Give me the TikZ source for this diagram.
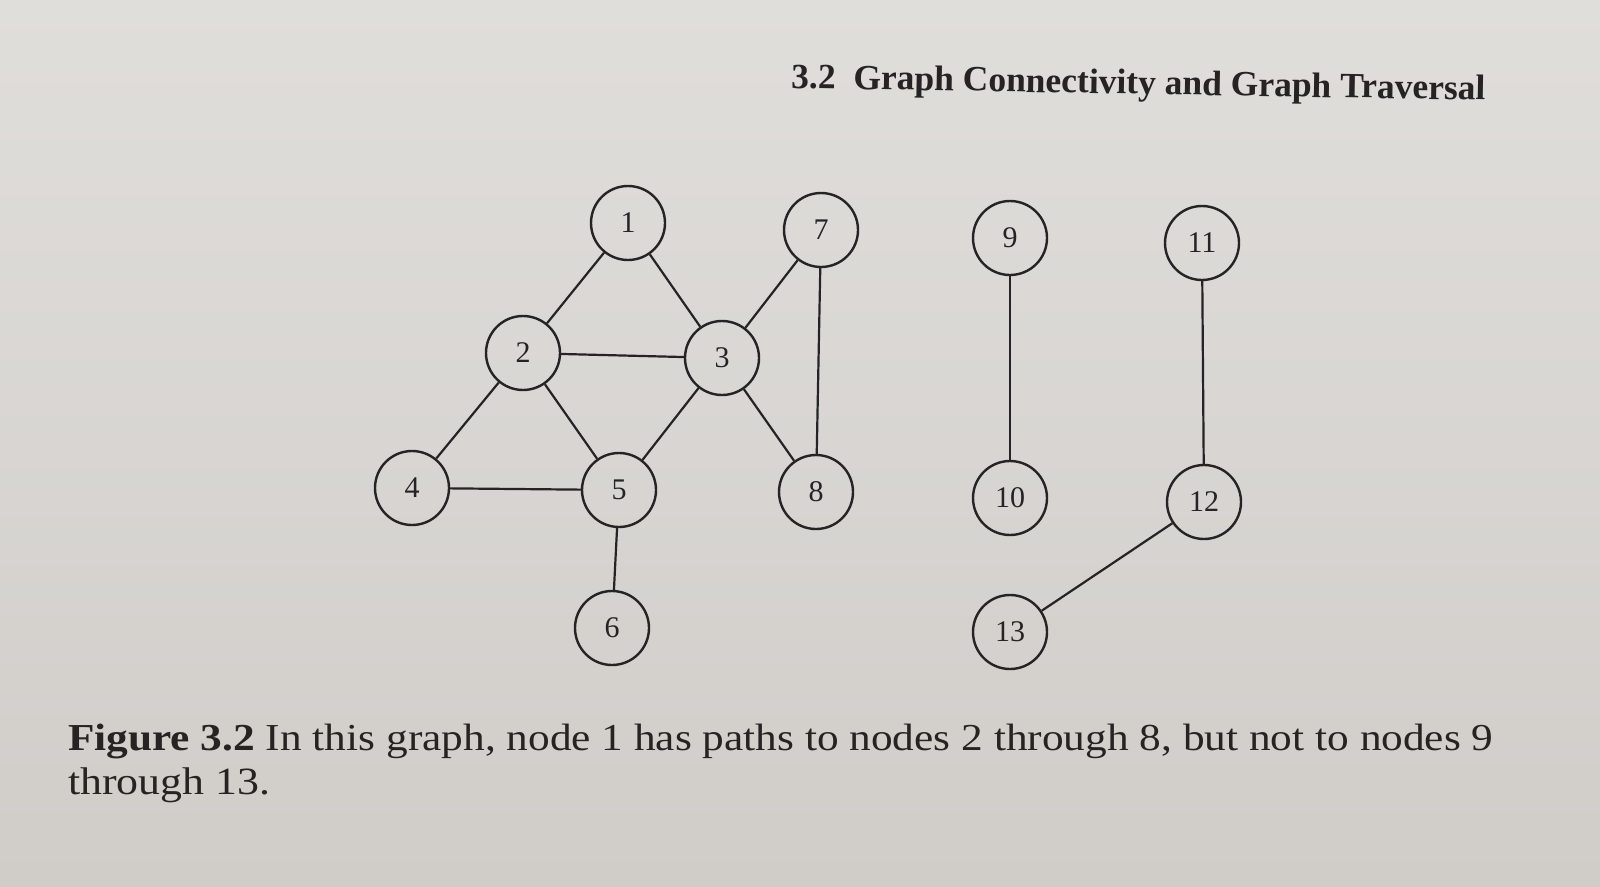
\documentclass[tikz,border=0pt]{standalone}
\usepackage{fontspec}
\setmainfont{Liberation Serif}
\definecolor{papertop}{RGB}{224,222,219}
\definecolor{paperbot}{RGB}{208,205,201}
\definecolor{ink}{RGB}{38,36,34}
\begin{document}
\begin{tikzpicture}[x=1pt,y=-1pt,
  vert/.style={circle,draw=ink,line width=2.4pt,minimum size=74pt,inner sep=0pt,
    font=\fontsize{30}{30}\selectfont,text=ink},
  edge/.style={draw=ink,line width=2.2pt},
  captext/.style={anchor=base west,inner sep=0pt,text=ink}]
\shade[top color=papertop,bottom color=paperbot] (0,0) rectangle (1600,886);
\useasboundingbox (0,0) rectangle (1600,886);
\node[vert] (n1) at (628,223) {1};
\node[vert] (n2) at (523,353) {2};
\node[vert] (n3) at (722,358) {3};
\node[vert] (n4) at (412,488) {4};
\node[vert] (n5) at (619,490) {5};
\node[vert] (n6) at (612,628) {6};
\node[vert] (n7) at (821,230) {7};
\node[vert] (n8) at (816,492) {8};
\node[vert] (n9) at (1010,238) {9};
\node[vert] (n10) at (1010,498) {10};
\node[vert] (n11) at (1202,243) {11};
\node[vert] (n12) at (1204,502) {12};
\node[vert] (n13) at (1010,632) {13};
\draw[edge] (n1) -- (n2);
\draw[edge] (n1) -- (n3);
\draw[edge] (n2) -- (n3);
\draw[edge] (n2) -- (n4);
\draw[edge] (n2) -- (n5);
\draw[edge] (n3) -- (n5);
\draw[edge] (n3) -- (n7);
\draw[edge] (n3) -- (n8);
\draw[edge] (n7) -- (n8);
\draw[edge] (n4) -- (n5);
\draw[edge] (n5) -- (n6);
\draw[edge] (n9) -- (n10);
\draw[edge] (n11) -- (n12);
\draw[edge] (n12) -- (n13);
\node[captext,rotate=-1.0] (title) at (791,88)
  {\resizebox{694pt}{!}{\bfseries 3.2\ \ Graph Connectivity and Graph Traversal}};
\node[captext] (cap1) at (68,750)
  {\scalebox{1}[0.88]{\resizebox{1425pt}{!}{\textbf{Figure 3.2} In this graph, node 1 has paths to nodes 2 through 8, but not to nodes 9}}};
\node[captext] (cap2) at (68,794)
  {\scalebox{1}[0.88]{\resizebox{202pt}{!}{through 13.}}};
\end{tikzpicture}
\end{document}
